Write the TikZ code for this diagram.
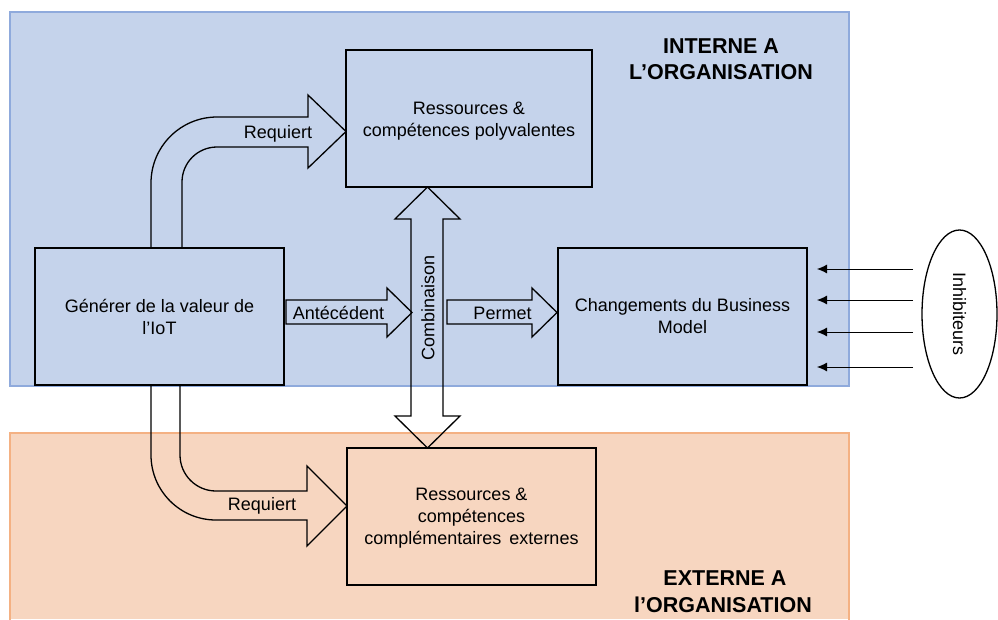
\documentclass[tikz,border=0pt]{standalone}
\usepackage{fontspec}
\setmainfont{Liberation Sans}
\usetikzlibrary{arrows.meta,shapes.geometric}
\definecolor{inbg}{RGB}{197,211,235}
\definecolor{inborder}{RGB}{143,170,220}
\definecolor{exbg}{RGB}{247,214,192}
\definecolor{exborder}{RGB}{244,177,131}
\tikzset{
  body/.style={font=\fontsize{18}{22}\selectfont, align=center},
  title/.style={font=\fontsize{21.5}{26}\selectfont\bfseries, anchor=base, inner sep=0pt},
  box/.style={body, draw=black, line width=1.3pt, minimum width=249pt, minimum height=137pt, inner sep=0pt},
  blockarrow/.style={draw=black, line width=1.3pt, line join=miter},
  lbl/.style={font=\fontsize{18}{22}\selectfont, inner sep=0pt},
  inh/.style={draw=black, line width=0.9pt, -{Latex[length=10pt,width=9pt]}}
}
\begin{document}
\begin{tikzpicture}[x=1pt,y=-1pt]
\useasboundingbox (0,0) rectangle (998,619);
\fill[white] (0,0) rectangle (998,619);
% regions
\fill[inbg] (10,12) rectangle (849,386);
\draw[inborder, line width=1.2pt] (10,12) rectangle (849,386);
\fill[exbg] (10,433) rectangle (849,619);
\draw[exborder, line width=1.2pt] (10,622) -- (10,433) -- (849,433) -- (849,622);
% titles
\node[title] (t1a) at (721,53) {INTERNE A};
\node[title] (t1b) at (721,79) {L’ORGANISATION};
\node[title] (t2a) at (725,585) {EXTERNE A};
\node[title] (t2b) at (723,612) {l’ORGANISATION};
% boxes
\node[box] (A) at (159.5,316.5) {Générer de la valeur de\\l’IoT};
\node[box, minimum width=246pt] (R1) at (469,118.5) {\rule{0pt}{18pt}Ressources \&\\compétences polyvalentes};
\node[box] (R2) at (471.5,516.5) {\rule{0pt}{16pt}Ressources \&\\compétences\\complémentaires\, externes};
\node[box] (C) at (682.5,316.5) {Changements du Business\\Model};
% inhibiteurs
\node[draw=black, line width=1.3pt, ellipse, rotate=-90, minimum width=168pt, minimum height=75pt, inner sep=0pt, font=\fontsize{18}{22}\selectfont] (I) at (959.5,314) {Inhibiteurs};
\coordinate (s1) at (913,269); \coordinate (e1) at (817,269);
\coordinate (s2) at (913,300); \coordinate (e2) at (817,300);
\coordinate (s3) at (913,332); \coordinate (e3) at (817,332);
\coordinate (s4) at (913,367); \coordinate (e4) at (817,367);
\draw[inh] (s1) -- (e1);
\draw[inh] (s2) -- (e2);
\draw[inh] (s3) -- (e3);
\draw[inh] (s4) -- (e4);
% Requiert (top)
\draw[blockarrow] (151,248) -- (151,183) arc[start angle=180, end angle=90, radius=66pt]
  -- (308,117) -- (308,95) -- (346,131.5) -- (308,168) -- (308,147) -- (217,147)
  arc[start angle=90, end angle=180, radius=35pt] -- (182,248) -- cycle;
\node[lbl] (rq1) at (278,134) {Requiert};
% Requiert (bottom)
\draw[blockarrow] (151,385) -- (151,455) arc[start angle=180, end angle=270, radius=65pt]
  -- (307,520) -- (307,546) -- (347,506) -- (307,466) -- (307,491) -- (216,491)
  arc[start angle=270, end angle=180, radius=36pt] -- (180,385) -- cycle;
\node[lbl] (rq2) at (262,506) {Requiert};
% Antecedent
\draw[blockarrow] (286,300) -- (387,300) -- (387,288) -- (412,312.5) -- (387,337) -- (387,324) -- (286,324) -- cycle;
\node[lbl] (ant) at (338.5,313) {Antécédent};
% Permet
\draw[blockarrow] (447,300) -- (532,300) -- (532,288) -- (557,312.5) -- (532,337) -- (532,324) -- (447,324) -- cycle;
\node[lbl] (per) at (502.5,313) {Permet};
% Combinaison
\draw[blockarrow] (411,219) -- (395,219) -- (427.5,187) -- (460,219) -- (443,219) -- (443,416) -- (460,416) -- (427.5,448) -- (395,416) -- (411,416) -- cycle;
\node[lbl, rotate=90] (comb) at (428,307.5) {Combinaison};
\end{tikzpicture}
\end{document}
